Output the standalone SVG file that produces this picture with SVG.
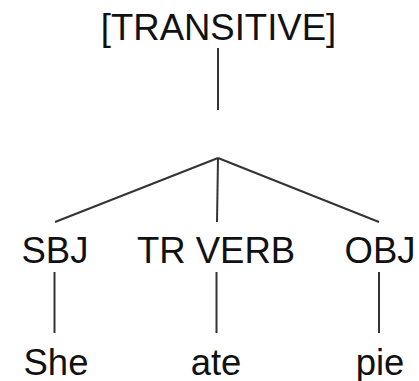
<svg xmlns="http://www.w3.org/2000/svg" width="419" height="381" viewBox="0 0 419 381">
  <style>
    .lbl { font-family: "Liberation Sans", Arial, sans-serif; font-size: 36.5px; fill: #111; text-anchor: middle; }
    .edge { stroke: #333; stroke-width: 2; fill: none; stroke-linecap: butt; }
  </style>
  <rect width="419" height="381" fill="#fff"/>

  <!-- tree branches -->
  <g id="connectors">
    <line class="edge" x1="218" y1="48" x2="218" y2="110"/>
    <line class="edge" x1="218" y1="158" x2="55" y2="222"/>
    <line class="edge" x1="218" y1="158" x2="217" y2="222"/>
    <line class="edge" x1="218" y1="158" x2="379" y2="222"/>
    <line class="edge" x1="54.5" y1="272" x2="54.5" y2="333"/>
    <line class="edge" x1="216.5" y1="272" x2="216.5" y2="333"/>
    <line class="edge" x1="379" y1="272" x2="379" y2="333"/>
  </g>

  <g id="transitive"><text class="lbl" x="218.5" y="40">[TRANSITIVE]</text></g>
  <g id="sbj"><text class="lbl" x="55" y="263">SBJ</text></g>
  <g id="trverb"><text class="lbl" x="216" y="263">TR VERB</text></g>
  <g id="obj"><text class="lbl" x="380" y="263">OBJ</text></g>
  <g id="she"><text class="lbl" x="56" y="375">She</text></g>
  <g id="ate"><text class="lbl" x="216" y="375">ate</text></g>
  <g id="pie"><text class="lbl" x="380" y="375">pie</text></g>
</svg>
